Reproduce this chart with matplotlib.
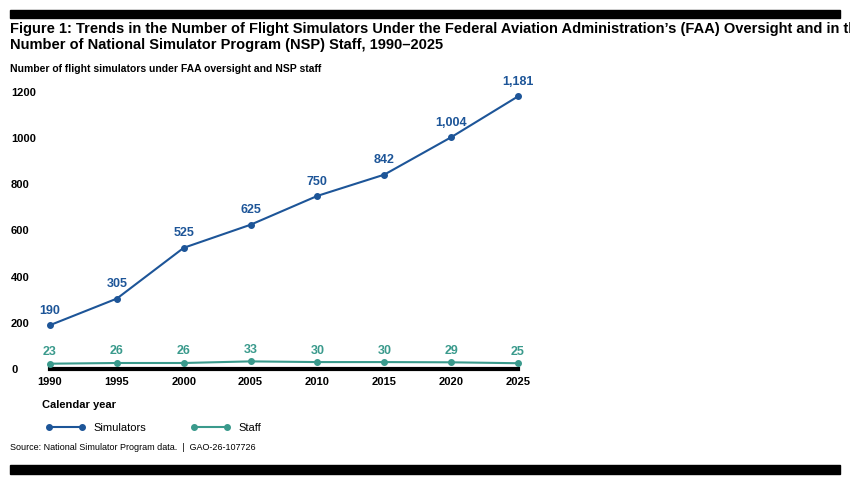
import matplotlib.pyplot as plt
from matplotlib.lines import Line2D
from matplotlib.patches import Rectangle

years = [1990, 1995, 2000, 2005, 2010, 2015, 2020, 2025]
simulators = [190, 305, 525, 625, 750, 842, 1004, 1181]
staff = [23, 26, 26, 33, 30, 30, 29, 25]

sim_color = "#1d5598"
staff_color = "#3a9a8c"

plt.rcParams['font.family'] = ['Liberation Sans', 'DejaVu Sans']

fig = plt.figure(figsize=(8.5, 4.78), dpi=100)

# black bars top and bottom
fig.add_artist(Rectangle((10/850, 1 - 18/478), 830/850, 8/478, transform=fig.transFigure, color="black"))
fig.add_artist(Rectangle((10/850, 1 - 474/478), 830/850, 9/478, transform=fig.transFigure, color="black"))

fig.text(10/850, 1 - 37/478, "Figure 1: Trends in the Number of Flight Simulators Under the Federal Aviation Administration\u2019s (FAA) Oversight and in the\nNumber of National Simulator Program (NSP) Staff, 1990\u20132025",
         fontsize=10.5, fontweight="bold", va="center", linespacing=1.15)
fig.text(10/850, 1 - 69/478, "Number of flight simulators under FAA oversight and NSP staff",
         fontsize=7.5, fontweight="bold", va="center")

ax = fig.add_axes([50/850, 109/478, 468/850, 277/478])
ax.plot(years, simulators, color=sim_color, lw=1.5, marker="o", ms=4, clip_on=False, zorder=3)
ax.plot(years, staff, color=staff_color, lw=1.5, marker="o", ms=4, clip_on=False, zorder=3)
for x, y in zip(years, simulators):
    ax.annotate(f"{y:,}", (x, y), xytext=(0, 6), textcoords="offset points", ha="center",
                va="bottom", color=sim_color, fontsize=9, fontweight="bold")
for x, y in zip(years, staff):
    ax.annotate(f"{y}", (x, y), xytext=(0, 4), textcoords="offset points", ha="center",
                va="bottom", color=staff_color, fontsize=9, fontweight="bold")

ax.set_xlim(1990, 2025)
ax.set_ylim(0, 1200)
ax.set_xticks(years)
ax.set_yticks(range(0, 1201, 200))
for s in ["top", "right", "left"]:
    ax.spines[s].set_visible(False)
ax.spines["bottom"].set_linewidth(3)
ax.tick_params(axis="both", length=0, labelsize=8)
ax.tick_params(axis="x", pad=6)
ax.tick_params(axis="y", pad=28)
for lbl in ax.get_xticklabels() + ax.get_yticklabels():
    lbl.set_fontweight("bold")
for lbl in ax.get_yticklabels():
    lbl.set_horizontalalignment("left")

fig.text(42/850, 1 - 405/478, "Calendar year", fontsize=8, fontweight="bold", va="center")

handles = [Line2D([], [], color=sim_color, lw=1.5, marker="o", ms=4),
           Line2D([], [], color=staff_color, lw=1.5, marker="o", ms=4)]
fig.legend(handles, ["Simulators", "Staff"], loc="center left", bbox_to_anchor=(36/850, 1 - 428/478),
           ncol=2, frameon=False, fontsize=8, handlelength=3.5, columnspacing=4, numpoints=2)

fig.text(10/850, 1 - 448/478, "Source: National Simulator Program data.  |  GAO-26-107726", fontsize=6.5, va="center")

fig.savefig("out.png", dpi=100)
